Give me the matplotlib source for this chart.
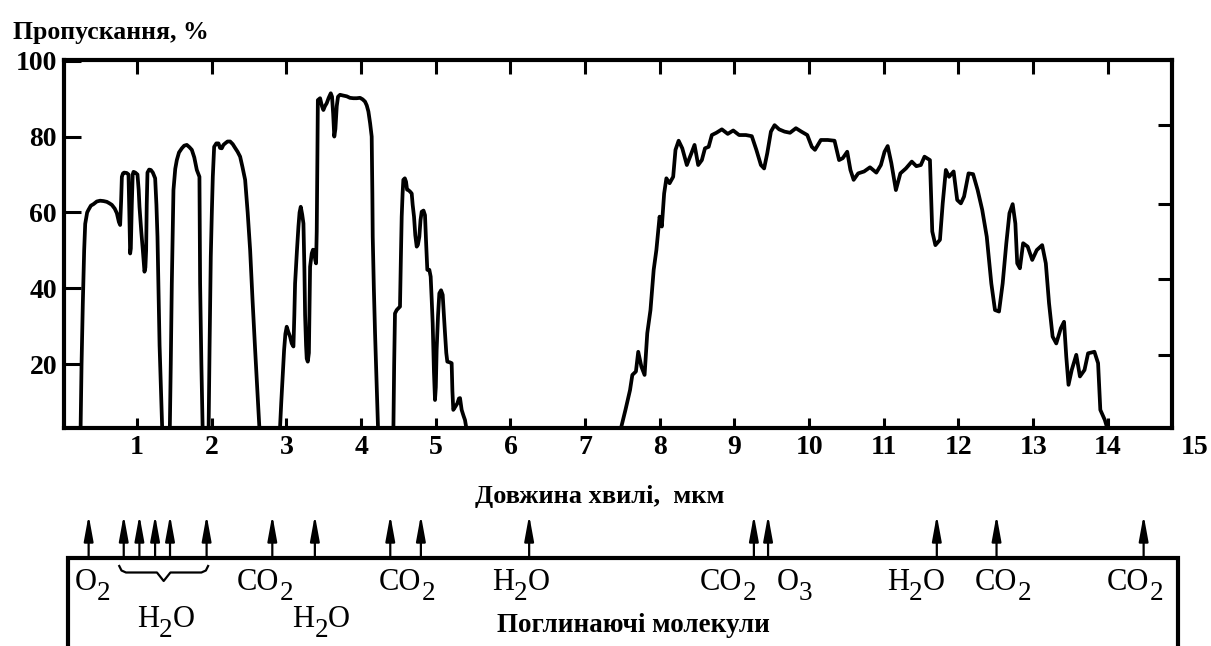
import re
import matplotlib
matplotlib.use('Agg')
import matplotlib.pyplot as plt

plt.rcParams['font.family'] = ['Liberation Serif', 'DejaVu Serif']

# ---------------- data: transmission windows (wavelength um, transmission %) -------------
wl_a = [0.24, 0.255, 0.272, 0.29, 0.304, 0.33, 0.348, 0.38, 0.415, 0.46, 0.504, 0.55, 0.594,
        0.63, 0.661, 0.70, 0.728, 0.755, 0.772, 0.785, 0.795, 0.81, 0.826, 0.86, 0.884, 0.895,
        0.906, 0.915, 0.928, 0.94, 0.951, 0.975, 1.004, 1.02, 1.031, 1.055, 1.076, 1.098, 1.110,
        1.120, 1.128, 1.138, 1.16, 1.183, 1.21, 1.241, 1.258, 1.272, 1.30, 1.34]
tr_a = [0, 20, 36, 50, 57, 60, 60.7, 61.8, 62.2, 62.9, 63.1, 63.0, 62.8,
        62.4, 62.0, 61.0, 59.8, 57.5, 56.7, 63, 69.4, 70.3, 70.5, 70.4, 70.0, 60,
        49.2, 50.5, 62, 70.0, 70.7, 70.5, 70.0, 66, 61.5, 55, 50, 44.4, 45.5,
        50, 62, 70.5, 71.3, 71.2, 70.5, 69.0, 62, 53.6, 25, 0]

wl_b = [1.435, 1.45, 1.464, 1.486, 1.51, 1.531, 1.56, 1.598, 1.63, 1.665, 1.70, 1.732, 1.765,
        1.799, 1.834, 1.843, 1.86, 1.88]
tr_b = [0, 20, 41.3, 65.9, 71.5, 73.8, 75.8, 76.9, 77.6, 77.8, 77.2, 76.5, 74.5,
        71.2, 69.4, 41.3, 20, 0]

wl_c = [1.955, 1.97, 1.986, 2.0, 2.013, 2.031, 2.06, 2.089, 2.11, 2.133, 2.155, 2.178, 2.21,
        2.245, 2.28, 2.312, 2.345, 2.379, 2.41, 2.446, 2.48, 2.513, 2.545, 2.58, 2.646]
tr_c = [0, 25, 48.4, 60, 69.4, 77.3, 78.2, 78.2, 77, 76.9, 77.8, 78.2, 78.7,
        78.7, 78, 77.0, 76, 74.7, 72, 68.6, 60, 50.1, 37, 23.8, 0]

wl_d = [2.905, 2.93, 2.968, 2.985, 3.003, 3.025, 3.048, 3.07, 3.093, 3.105, 3.115, 3.14, 3.160,
        3.175, 3.191, 3.21, 3.227, 3.24, 3.249, 3.262, 3.271, 3.285, 3.300, 3.316, 3.338, 3.355,
        3.369, 3.385, 3.396, 3.405, 3.414, 3.42, 3.45, 3.475, 3.494, 3.515, 3.539, 3.565, 3.593,
        3.61, 3.625, 3.64, 3.655, 3.673, 3.69, 3.717, 3.76, 3.807, 3.85, 3.896, 3.94, 3.985,
        4.02, 4.052, 4.075, 4.097, 4.12, 4.141, 4.15, 4.155, 4.17, 4.186, 4.231]
tr_d = [0, 10, 23.8, 28, 29.9, 28.5, 27.3, 25.5, 24.7, 33, 41.3, 50, 56.3,
        60, 61.5, 59.5, 57.1, 45, 33, 25, 21.5, 20.7, 23, 45.7, 49.2, 50.2,
        50, 47.5, 46.6, 55, 75, 89.6, 90.1, 88, 87, 88, 88.8, 90.2, 91.4,
        90.5, 86, 80, 82, 88, 90.5, 91, 90.8, 90.6, 90.2, 90.1, 90.1, 90.2,
        89.8, 89.2, 88.2, 86.6, 83.5, 80, 65, 53.6, 40, 28.2, 0]

wl_e = [4.43, 4.442, 4.453, 4.476, 4.50, 4.520, 4.532, 4.543, 4.555, 4.565, 4.585, 4.601, 4.615,
        4.632, 4.655, 4.677, 4.69, 4.708, 4.725, 4.744, 4.76, 4.779, 4.795, 4.811, 4.835, 4.855,
        4.87, 4.886, 4.913, 4.931, 4.945, 4.958, 4.975, 4.989, 5.0, 5.011, 5.03, 5.047, 5.07,
        5.092, 5.108, 5.123, 5.14, 5.154, 5.19, 5.212, 5.222, 5.234, 5.26, 5.288, 5.31, 5.324,
        5.346, 5.37, 5.391, 5.436]
tr_e = [0, 20, 33.4, 34.3, 34.8, 35.2, 48, 58.9, 65, 68.6, 69, 68.1, 66,
        65.9, 65.5, 65.0, 62, 58.9, 54, 51, 51.5, 53.6, 58, 60.2, 60.5, 59.3,
        52, 44.9, 44.9, 43.1, 37, 30.8, 18, 10.6, 14, 23.8, 33, 38.7, 39.5,
        38.3, 33, 28.2, 23, 20.7, 20.5, 20.3, 13, 8, 8.8, 9.7, 11, 11.1,
        8, 6.5, 5.3, 0]

wl_f = [7.44, 7.540, 7.601, 7.632, 7.680, 7.711, 7.753, 7.796, 7.832, 7.875, 7.918, 7.954, 7.997,
        8.027, 8.058, 8.088, 8.131, 8.179, 8.210, 8.252, 8.301, 8.362, 8.423, 8.465, 8.514, 8.563,
        8.605, 8.654, 8.697, 8.758, 8.831, 8.910, 8.983, 9.062, 9.153, 9.232, 9.293, 9.354, 9.397,
        9.439, 9.488, 9.537, 9.598, 9.671, 9.744, 9.823, 9.896, 9.975, 10.036, 10.078, 10.157,
        10.249, 10.340, 10.401, 10.450, 10.510, 10.553, 10.596, 10.657, 10.736, 10.815, 10.900,
        10.961, 11.010, 11.052, 11.101, 11.162, 11.222, 11.296, 11.375, 11.436, 11.496, 11.545,
        11.618, 11.649, 11.691, 11.752, 11.789, 11.831, 11.874, 11.935, 11.983, 12.032, 12.075,
        12.135, 12.196, 12.257, 12.318, 12.379, 12.440, 12.489, 12.543, 12.592, 12.641, 12.683,
        12.726, 12.762, 12.787, 12.823, 12.866, 12.927, 12.988, 13.049, 13.121, 13.170, 13.213,
        13.261, 13.310, 13.371, 13.414, 13.444, 13.474, 13.517, 13.578, 13.627, 13.688, 13.736,
        13.821, 13.870, 13.900, 13.961, 13.991, 14.02]
tr_f = [0, 8.0, 13.2, 17.2, 18.1, 23.3, 19.4, 17.2, 28.2, 34.3, 44.9, 50.1, 58.9,
        56.3, 65.0, 69.0, 67.7, 69.4, 76.5, 78.9, 76.9, 72.5, 75.6, 77.8, 72.5, 73.8,
        76.9, 77.3, 80.4, 81.0, 81.9, 80.7, 81.6, 80.4, 80.4, 80.1, 76.5, 72.5, 71.6,
        75.6, 81.3, 83.0, 81.9, 81.3, 81.0, 82.2, 81.3, 80.4, 77.3, 76.5, 79.1,
        79.1, 78.9, 73.8, 74.3, 76.0, 71.2, 68.6, 70.3, 70.8, 71.9, 70.5,
        72.5, 76.0, 77.5, 73.0, 65.9, 70.3, 71.6, 73.4, 72.2, 72.5, 74.7,
        73.8, 55.0, 51.4, 52.8, 62.4, 71.2, 69.4, 70.8, 63.3, 62.4, 64.2,
        70.3, 70.1, 65.9, 60.7, 53.6, 41.3, 34.3, 33.9, 41.3, 51.9, 59.8,
        62.2, 57.1, 46.6, 45.3, 51.9, 51.0, 47.5, 50.1, 51.4, 46.6, 36.1,
        27.3, 25.5, 29.5, 31.2, 22.0, 14.6, 18.5, 22.5, 16.8, 18.5, 22.9,
        23.3, 20.3, 8.0, 5.3, 3.3, 0]

windows = [(wl_a, tr_a), (wl_b, tr_b), (wl_c, tr_c), (wl_d, tr_d), (wl_e, tr_e), (wl_f, tr_f)]

x_ticks = list(range(1, 15))
x_tick_labels = [str(v) for v in x_ticks]
extra_x_label = '15'
extra_x_label_pos = 15.16
y_ticks = [20, 40, 60, 80, 100]
y_tick_labels = [str(v) for v in y_ticks]
right_tick_pos = [83.0, 62.2, 42.5, 22.4]

# absorption bands (arrows) and molecule labels
arrow_x = [0.35, 0.82, 1.03, 1.24, 1.44, 1.93, 2.81, 3.38, 4.39, 4.80, 6.25, 9.26, 9.45,
           11.71, 12.51, 14.48]
brace_arrows = [0.82, 1.03, 1.24, 1.44, 1.93]
mol_labels = ['O_2', 'H_2O', 'CO_2', 'H_2O', 'CO_2', 'H_2O', 'CO_2', 'O_3',
              'H_2O', 'CO_2', 'CO_2']
mol_left = [0.17, 1.00, 2.34, 3.08, 4.24, 5.75, 8.54, 9.57, 11.04, 12.22, 13.99]
mol_row = [1, 2, 1, 2, 1, 1, 1, 1, 1, 1, 1]

title_text = 'Пропускання, %'
xlabel_text = 'Довжина хвилі,  мкм'
box_title = 'Поглинаючі молекули'

# ---------------- layout ----------------
W, H = 1211, 646
fig = plt.figure(figsize=(W / 100, H / 100), dpi=100)
AX_L, AX_R, AX_T, AX_B = 64, 1172, 59.5, 427.7
ax = fig.add_axes([AX_L / W, 1 - AX_B / H, (AX_R - AX_L) / W, (AX_B - AX_T) / H])
XLIM = (0.02, 14.86)
YLIM = (3.3, 100.3)
TICK_FS = 20

for wl, tr in windows:
    ax.plot(wl, tr, color='black', lw=2.7, solid_joinstyle='round', solid_capstyle='butt')

ax.set_xlim(*XLIM)
ax.set_ylim(*YLIM)
for s in ax.spines.values():
    s.set_linewidth(3)
ax.set_xticks(x_ticks, x_tick_labels, fontsize=TICK_FS, fontweight='bold')
ax.set_yticks(y_ticks, y_tick_labels, fontsize=TICK_FS, fontweight='bold')
ax.tick_params(axis='x', direction='in', length=7, width=2.2, pad=5, top=False)
ax.tick_params(axis='y', direction='in', length=12, width=2.2, pad=5, right=False)
ax.annotate(extra_x_label, xy=(extra_x_label_pos, 0), xycoords=ax.get_xaxis_transform(),
            xytext=(0, -5), textcoords='offset points', ha='center', va='top',
            fontsize=TICK_FS, fontweight='bold', annotation_clip=False)

axt = ax.twiny()
axt.set_xlim(*XLIM)
axt.set_xticks(x_ticks, [''] * len(x_ticks))
axt.tick_params(axis='x', direction='in', length=10, width=2.2)
for s in axt.spines.values():
    s.set_visible(False)

axr = ax.twinx()
axr.set_ylim(*YLIM)
axr.set_yticks(right_tick_pos, [''] * len(right_tick_pos))
axr.tick_params(axis='y', direction='in', length=10, width=2.2)
for s in axr.spines.values():
    s.set_visible(False)

fig.text(13 / W, 1 - 39 / H, title_text, fontsize=18.5, fontweight='bold', ha='left',
         va='baseline')
fig.text(600 / W, 1 - 503 / H, xlabel_text, fontsize=19, fontweight='bold', ha='center',
         va='baseline')

# ---------------- bottom panel: absorbing molecules ----------------
ax2 = fig.add_axes([AX_L / W, 0, (AX_R - AX_L) / W, 146 / H])
ax2.set_xlim(*XLIM)
ax2.set_ylim(646, 500)   # y in pixel rows from top of figure
ax2.axis('off')
BOX_L, BOX_R, BOX_TOP = 0.076, 14.94, 558
ax2.plot([BOX_L, BOX_L, BOX_R, BOX_R], [652, BOX_TOP, BOX_TOP, 652], color='black', lw=3,
         clip_on=False, solid_joinstyle='miter')
for xa in arrow_x:
    ax2.annotate('', xy=(xa, 515), xytext=(xa, BOX_TOP),
                 arrowprops=dict(arrowstyle='-|>,head_length=1.1,head_width=0.2',
                                 mutation_scale=14, lw=1.6, color='black',
                                 shrinkA=0, shrinkB=0),
                 annotation_clip=False)

# brace under the H2O arrows
b0, b1 = brace_arrows[0] - 0.06, brace_arrows[-1] + 0.02
bc = (b0 + b1) / 2
ax2.plot([b0, b0 + 0.03, b0 + 0.09, bc - 0.09, bc, bc + 0.09, b1 - 0.09, b1 - 0.03, b1],
         [566, 570.5, 572.5, 572.5, 581, 572.5, 572.5, 570.5, 566],
         color='black', lw=1.6, clip_on=False, solid_joinstyle='round')

MOL_FS = 22
SUB_FS = 19.5
SUB_DROP = 6.5   # points
SUB_DX = 0.0     # points
AFTER_SUB_DX = 0.0


def draw_formula(axis, x_left, y_base, formula):
    parts = re.findall(r'_\d+|[^_]+', formula)
    first = axis.text(x_left, y_base, parts[0], fontsize=MOL_FS, ha='left', va='baseline',
                      clip_on=False)
    prev = first
    for p in parts[1:]:
        if p.startswith('_'):
            prev = axis.annotate(p[1:], xy=(1, 0), xycoords=(prev, first),
                                 xytext=(SUB_DX, -SUB_DROP), textcoords='offset points',
                                 fontsize=SUB_FS, ha='left', va='bottom',
                                 annotation_clip=False)
        else:
            prev = axis.annotate(p, xy=(1, 0), xycoords=(prev, first),
                                 xytext=(AFTER_SUB_DX, 0), textcoords='offset points',
                                 fontsize=MOL_FS, ha='left', va='bottom',
                                 annotation_clip=False)


ROW_Y = {1: 590, 2: 627}
for lab, xm, r in zip(mol_labels, mol_left, mol_row):
    draw_formula(ax2, xm, ROW_Y[r], lab)
ax2.text(7.65, 632, box_title, fontsize=19.5, fontweight='bold', ha='center', va='baseline')

fig.savefig('out.png', dpi=100)
